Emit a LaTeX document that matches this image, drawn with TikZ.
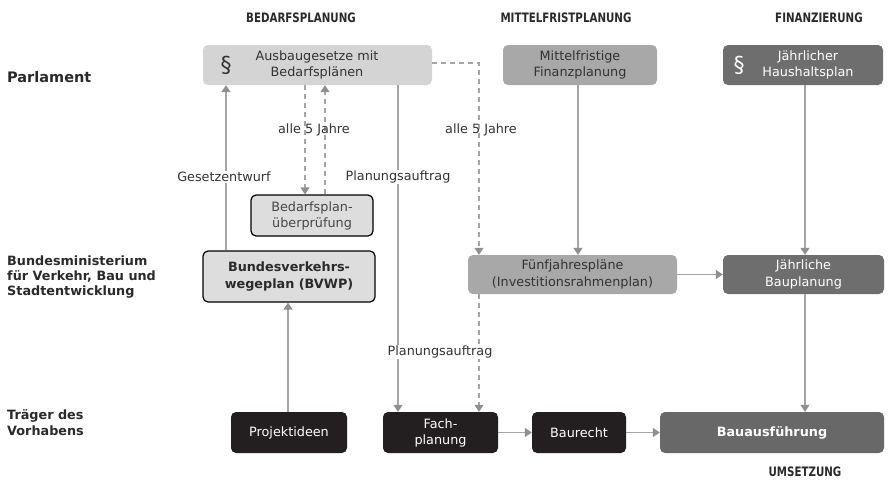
\documentclass[tikz,border=0pt]{standalone}
\usepackage{fontspec}
\setmainfont{DejaVu Sans}
\newfontfamily\hdrfont[FakeStretch=0.79]{DejaVu Sans}
\usetikzlibrary{arrows.meta}
\definecolor{txt}{HTML}{333333}
\definecolor{lbl}{HTML}{2A2A2A}
\definecolor{lightbox}{HTML}{D4D4D4}
\definecolor{midbox}{HTML}{A8A8A8}
\definecolor{darkbox}{HTML}{6E6E6E}
\definecolor{blackbox}{HTML}{231F20}
\definecolor{paleb}{HTML}{DDDDDD}
\definecolor{linec}{HTML}{A5A5A5}
\definecolor{tipc}{HTML}{8F8F8F}
\newcommand\fsreg{\fontsize{12.8}{16}\selectfont}
\newcommand\fsbld{\fontsize{12.8}{15.5}\selectfont\bfseries}
\newcommand\fshdr{\hdrfont\fontsize{13}{15}\selectfont\bfseries}
\newcommand\fsbig{\fontsize{14.5}{17}\selectfont\bfseries}
\newcommand\fspar{\fontsize{22}{22}\selectfont}
\begin{document}
\begin{tikzpicture}[x=1pt,y=-1pt,
  box/.style={rectangle, rounded corners=5pt, inner sep=0pt, align=center, font=\fsreg, text=txt},
  blk/.style={box, fill=blackbox, text=white, minimum height=41pt},
  hdr/.style={inner sep=0pt, font=\fshdr, text=lbl},
  rowlbl/.style={inner sep=0pt, font=\fsbld, text=lbl, align=left, anchor=west},
  lab/.style={inner sep=1pt, font=\fsreg, text=txt},
  con/.style={draw=linec, line width=1.4pt},
  arr/.style={con, -{Triangle[width=9pt,length=7pt,color=tipc]}},
  dsh/.style={dash pattern=on 5pt off 4pt}
]
\useasboundingbox (0,0) rectangle (889,482);

% column guides
\coordinate (c1) at (226,0);
\coordinate (c2) at (305,0);
\coordinate (c3) at (325,0);
\coordinate (c4) at (398,0);
\coordinate (c5) at (479,0);
\coordinate (c6) at (578,0);
\coordinate (c7) at (805,0);
\coordinate (c8) at (288,0);

% headers
\node[hdr] (h1) at (301,18) {BEDARFSPLANUNG};
\node[hdr] (h2) at (566,18) {MITTELFRISTPLANUNG};
\node[hdr] (h3) at (819,18) {FINANZIERUNG};
\node[hdr] (h4) at (805,472) {UMSETZUNG};

% row labels
\node[rowlbl, font=\fsbig] (r1) at (7,77) {Parlament};
\node[rowlbl, font=\fontsize{12.8}{15.3}\selectfont\bfseries] (r2) at (7,277) {Bundesministerium\\für Verkehr, Bau und\\Stadtentwicklung};
\node[rowlbl, font=\fontsize{12.8}{16}\selectfont\bfseries] (r3) at (7,423) {Träger des\\Vorhabens};

% top row
\node[box, fill=lightbox, minimum width=229pt, minimum height=40pt] (aus) at (317.5,65) {};
\node[inner sep=0pt, font=\fspar, text=txt] (ausp) at (226,65) {§};
\node[box] (aust) at (317,65) {Ausbaugesetze mit\\Bedarfsplänen};

\node[box, fill=midbox, minimum width=154pt, minimum height=40pt] (mfp) at (580,65) {Mittelfristige\\Finanzplanung};

\node[box, fill=darkbox, minimum width=160pt, minimum height=40pt] (hhp) at (803,65) {};
\node[inner sep=0pt, font=\fspar, text=white] (hhpp) at (739,65) {§};
\node[box, text=white] (hhpt) at (808,65) {Jährlicher\\Haushaltsplan};

% middle row
\node[box, fill=paleb, draw=black, line width=1.2pt, minimum width=122pt, minimum height=41pt, text=txt!90] (bpu) at (312,215.5) {Bedarfsplan-\\überprüfung};
\node[box, fill=paleb, draw=black, line width=1.2pt, minimum width=172pt, minimum height=51pt, font=\fontsize{12.8}{17.5}\selectfont\bfseries, text=lbl] (bvwp) at (289,276.5) {Bundesverkehrs-\\wegeplan (BVWP)};
\node[box, fill=midbox, minimum width=209pt, minimum height=39pt, font=\fontsize{12.8}{17}\selectfont] (fjp) at (572.5,274.5) {Fünfjahrespläne\\(Investitionsrahmenplan)};
\node[box, fill=darkbox, text=white, minimum width=161pt, minimum height=39pt, font=\fontsize{12.8}{17}\selectfont] (jbp) at (803.5,274.5) {Jährliche\\Bauplanung};

% bottom row
\node[blk, minimum width=116pt] (proj) at (289,432.5) {Projektideen};
\node[blk, minimum width=115pt] (fach) at (440.5,432.5) {Fach-\\planung};
\node[blk, minimum width=94pt] (baur) at (579,432.5) {Baurecht};
\node[box, fill=darkbox!95!black, text=white, minimum width=224pt, minimum height=41pt, font=\fsbld] (baua) at (772,432.5) {Bauausführung};

% connectors
\draw[arr] (bvwp.north -| c1) -- (aus.south -| c1);
\draw[arr, dsh] (aus.south -| c2) -- (bpu.north -| c2);
\draw[arr, dsh] (bpu.north -| c3) -- (aus.south -| c3);
\draw[arr] (aus.south -| c4) -- (fach.north -| c4);
\coordinate (dk) at ([yshift=2pt]aus.east);
\draw[arr, dsh] (dk) -- (dk -| c5) -- (fjp.north -| c5);
\draw[arr, dsh] (fjp.south -| c5) -- (fach.north -| c5);
\draw[arr] (mfp.south -| c6) -- (fjp.north -| c6);
\draw[arr] (hhp.south -| c7) -- (jbp.north -| c7);
\draw[arr] (fjp.east) -- (jbp.west);
\draw[arr] (jbp.south -| c7) -- (baua.north -| c7);
\draw[arr] (proj.north -| c8) -- (bvwp.south -| c8);
\draw[arr] (fach.east) -- (baur.west);
\draw[arr] (baur.east) -- (baua.west);

% labels
\node[lab, fill=white] (l1) at (224,177) {Gesetzentwurf};
\node[lab, fill=white] (l2) at (398,177) {Planungsauftrag};
\node[lab] (l3) at (314,130) {alle 5 Jahre};
\node[lab] (l4) at (481,130) {alle 5 Jahre};
\node[lab, fill=white] (l5) at (440,352) {Planungsauftrag};
\end{tikzpicture}
\end{document}
